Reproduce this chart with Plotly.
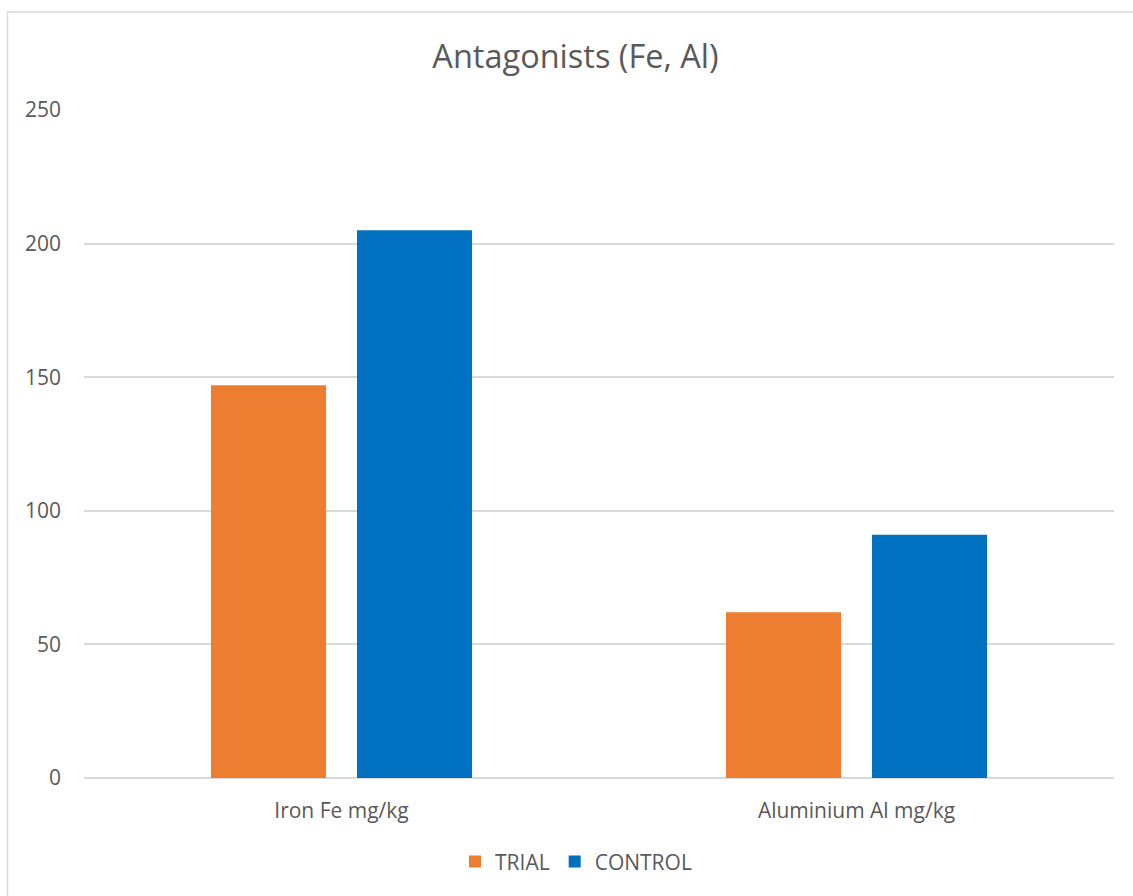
import plotly.graph_objects as go

# Antagonist concentrations by element
categories = ["Iron Fe mg/kg", "Aluminium Al mg/kg"]
trial_values = [147, 62]
control_values = [205, 91]
y_ticks = [0, 50, 100, 150, 200, 250]

FONT = "Open Sans"
TEXT_GREY = "#595959"
GRID = "#d9d9d9"

fig = go.Figure()
fig.add_trace(go.Bar(name="TRIAL", x=categories, y=trial_values,
                     marker=dict(color="#ed7d31", line=dict(width=0))))
fig.add_trace(go.Bar(name="CONTROL", x=categories, y=control_values,
                     marker=dict(color="#0070c0", line=dict(width=0))))

# Light outline around the chart area
L, R, T, B = 84, 19, 109.5, 118
W, H = 1133, 896
pw, ph = W - L - R, H - T - B
def px_x(p):
    return (p - L) / pw
def px_y(p):
    return (H - B - p) / ph

fig.add_shape(type="rect", xref="paper", yref="paper",
              x0=px_x(7.5), x1=px_x(1145), y0=px_y(905), y1=px_y(11.5),
              line=dict(color=GRID, width=1.5), fillcolor="rgba(0,0,0,0)",
              layer="below")

fig.update_layout(
    width=W, height=H,
    margin=dict(l=L, r=R, t=T, b=B),
    paper_bgcolor="white", plot_bgcolor="white",
    barmode="group", bargap=0.433, bargroupgap=0.212,
    title=dict(text="Antagonists (Fe, Al)", x=575.5 / W, xanchor="center",
               y=1 - 57 / H, yanchor="middle",
               font=dict(family=FONT, size=32.5, color=TEXT_GREY)),
    font=dict(family=FONT, color=TEXT_GREY, size=21),
    legend=dict(orientation="h", x=px_x(576), xanchor="center",
                y=px_y(862), yanchor="middle",
                font=dict(family=FONT, size=21, color=TEXT_GREY),
                itemwidth=30, traceorder="normal"),
    xaxis=dict(showgrid=False, showline=False, ticks="",
               ticklabelstandoff=18,
               tickfont=dict(family=FONT, size=21, color=TEXT_GREY)),
    yaxis=dict(range=[0, 250], tickvals=y_ticks, showgrid=True,
               gridcolor=GRID, gridwidth=1.8, zeroline=True,
               zerolinecolor=GRID, zerolinewidth=1.8, showline=False,
               ticks="", ticklabelstandoff=22,
               tickfont=dict(family=FONT, size=21, color=TEXT_GREY)),
)

fig.write_html("out.html")
